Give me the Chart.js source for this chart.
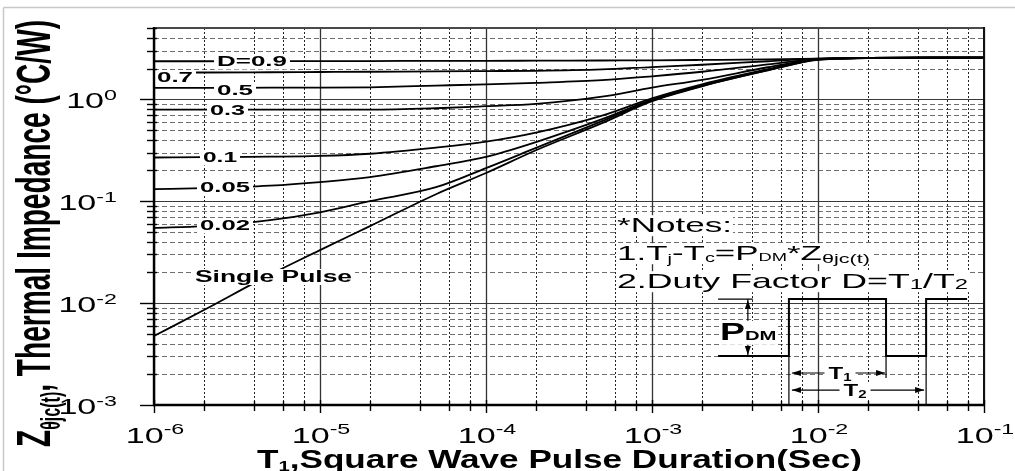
<!DOCTYPE html>
<html><head><meta charset="utf-8">
<script src="https://cdn.jsdelivr.net/npm/chart.js@4.4.1/dist/chart.umd.min.js"></script>
<style>html,body{margin:0;padding:0;background:#fff;overflow:hidden}canvas{display:block}</style>
</head><body>
<canvas id="c" width="1015" height="471"></canvas>
<script>
// ---------------- data ----------------
const xValues = [1e-6,2e-6,5e-6,1e-5,2e-5,5e-5,1e-4,2e-4,5e-4,1e-3,2e-3,5e-3,1e-2,2e-2,5e-2,1e-1];
const seriesNames = ['D=0.9','0.7','0.5','0.3','0.1','0.05','0.02','Single Pulse'];
const d09    = [2.36,2.36,2.37,2.37,2.37,2.38,2.38,2.39,2.40,2.41,2.43,2.46,2.50,2.54,2.56,2.56];
const d07    = [1.83,1.83,1.84,1.85,1.86,1.88,1.89,1.90,1.96,2.07,2.18,2.36,2.50,2.54,2.56,2.56];
const d05    = [1.29,1.29,1.30,1.30,1.31,1.36,1.40,1.45,1.54,1.68,1.86,2.20,2.49,2.54,2.56,2.56];
const d03    = [0.79,0.79,0.79,0.79,0.79,0.816,0.854,0.90,1.06,1.30,1.55,2.06,2.48,2.54,2.56,2.56];
const d01    = [0.268,0.270,0.273,0.278,0.292,0.335,0.383,0.47,0.69,1.02,1.40,1.97,2.47,2.54,2.56,2.56];
const d005   = [0.131,0.134,0.142,0.154,0.172,0.22,0.272,0.38,0.637,0.99,1.37,1.95,2.46,2.54,2.56,2.56];
const d002   = [0.0547,0.057,0.065,0.0775,0.10,0.137,0.211,0.333,0.609,0.97,1.35,1.93,2.45,2.54,2.56,2.56];
const single = [0.00475,0.00854,0.019,0.0331,0.0569,0.117,0.189,0.316,0.582,0.956,1.34,1.92,2.44,2.53,2.56,2.56];
const seriesValues = [d09,d07,d05,d03,d01,d005,d002,single];

const tickBase = '10';
const xTickExps = ['-6','-5','-4','-3','-2','-1'];
const yTickExps = ['-3','-2','-1','0'];
const xMinorMultipliers = [2,4,6,8];
const yMinorMultipliers = [2,3,4,5,6,7,8,9];

// ---------------- helpers ----------------
const FONT = '"Liberation Sans", Arial, Helvetica, sans-serif';
function fontOf(s){ return (s.bold?'bold ':'') + s.size + 'px ' + FONT; }
function drawRich(ctx, segs, x, y, o) {
  o = o || {};
  ctx.save();
  let w = 0;
  for (const s of segs) { ctx.font = fontOf(s); s.w = ctx.measureText(s.t).width; w += s.w; }
  const sx = o.width ? o.width / w : (o.sx || 1);
  ctx.translate(x, y);
  if (o.rot) { ctx.scale(o.hx || 1, 1); ctx.rotate(-Math.PI / 2); }
  ctx.scale(sx, 1);
  const start = o.align === 'center' ? -w / 2 : (o.align === 'right' ? -w : 0);
  const maxSize = Math.max.apply(null, segs.map(s => s.size));
  if (o.bg) {
    ctx.fillStyle = '#fff';
    const p = (o.pad == null ? 2 : o.pad) / sx;
    ctx.fillRect(start - p, -maxSize * 0.80, w + 2 * p, maxSize * 1.0);
  }
  ctx.fillStyle = o.color || '#000';
  ctx.textBaseline = 'alphabetic';
  ctx.textAlign = 'left';
  let cx = start;
  for (const s of segs) { ctx.font = fontOf(s); ctx.fillText(s.t, cx, s.dy || 0); cx += s.w; }
  ctx.restore();
}
function seg(t, size, bold, dy){ return {t:t, size:size, bold:!!bold, dy:dy||0}; }
function isMajor(v){ const l = Math.log10(v); return Math.abs(l - Math.round(l)) < 1e-6; }
function line(ctx, x1, y1, x2, y2){ ctx.beginPath(); ctx.moveTo(x1,y1); ctx.lineTo(x2,y2); ctx.stroke(); }
function arrowHead(ctx, x, y, dx, dy){
  const L = 9, H = 3;
  ctx.beginPath();
  ctx.moveTo(x, y);
  ctx.lineTo(x - dx*L - dy*H, y - dy*L + dx*H);
  ctx.lineTo(x - dx*L + dy*H, y - dy*L - dx*H);
  ctx.closePath(); ctx.fill();
}

// gridline values built from the tick definitions
const xGrid = [];
xTickExps.forEach((e, i) => {
  const d = Math.pow(10, +e); xGrid.push(d);
  if (i < xTickExps.length - 1) xMinorMultipliers.forEach(m => xGrid.push(m * d));
});
const yGrid = [];
yTickExps.forEach((e) => {
  const d = Math.pow(10, +e); yGrid.push(d);
  yMinorMultipliers.forEach(m => { if (m * d <= 5 + 1e-9) yGrid.push(m * d); });
});

// ---------------- plugins ----------------
const gridPlugin = {
  id: 'grid',
  beforeDatasetsDraw(chart) {
    const ctx = chart.ctx, a = chart.chartArea, xs = chart.scales.x, ys = chart.scales.y;
    ctx.save();
    for (const v of yGrid) {
      const p = Math.round(ys.getPixelForValue(v)) + 0.5;
      if (isMajor(v)) { ctx.setLineDash([]); ctx.strokeStyle = '#3a3a3a'; ctx.lineWidth = 1.2; }
      else { ctx.setLineDash([5,3]); ctx.strokeStyle = '#6e6e6e'; ctx.lineWidth = 1; }
      line(ctx, a.left, p, a.right, p);
    }
    for (const v of xGrid) {
      const p = Math.round(xs.getPixelForValue(v)) + 0.5;
      if (isMajor(v)) { ctx.setLineDash([]); ctx.strokeStyle = '#333'; ctx.lineWidth = 1.3; }
      else { ctx.setLineDash([2,2]); ctx.strokeStyle = '#222'; ctx.lineWidth = 1; }
      line(ctx, p, a.top, p, a.bottom);
    }
    ctx.restore();
  }
};

const annotPlugin = {
  id: 'annot',
  afterDatasetsDraw(chart) {
    const ctx = chart.ctx, xs = chart.scales.x, ys = chart.scales.y;
    const X = v => xs.getPixelForValue(v), Y = v => ys.getPixelForValue(v);
    // curve labels (white boxes interrupt the lines)
    const curveLabels = [
      {t:'D=0.9', x:252, y:61, w:70},
      {t:'0.7', x:175, y:77, w:36},
      {t:'0.5', x:235, y:90, w:36},
      {t:'0.3', x:227.5, y:110, w:35},
      {t:'0.1', x:220, y:157, w:34},
      {t:'0.05', x:225, y:186.5, w:50},
      {t:'0.02', x:225, y:225, w:50}
    ];
    curveLabels.forEach(l => drawRich(ctx, [seg(l.t, 15, true)], l.x, l.y + 5.4, {align:'center', width:l.w, bg:true, pad:3}));
    drawRich(ctx, [seg('Single Pulse', 16, true)], 273.5, 276 + 5.8, {align:'center', width:157, bg:true, pad:3});

    // notes
    drawRich(ctx, [seg('*Notes:', 21)], 617, 232, {width:115, bg:true, pad:1});
    drawRich(ctx, [seg('1.T',21), seg('j',12,false,3), seg('-T',21), seg('c',12,false,2), seg('=P',21), seg('DM',11,false,1), seg('*Z',21), seg('\u03B8jc(t)',13,false,3)], 617, 260, {width:253, bg:true, pad:1});
    drawRich(ctx, [seg('2.Duty Factor D=T',21), seg('1',14,false,1), seg('/T',21), seg('2',14,false,1)], 617, 288, {width:351, bg:true, pad:1});

    // pulse diagram (in data coordinates)
    const xA = 2.50e-3, xB = 3.78e-3, xBe = 4.05e-3, xC = 6.68e-3, xE = 0.0257, xF = 0.0448, xG = 0.0791;
    const yHi = 0.01094, yLo = 0.00302, yT1 = 0.00206, yT2 = 0.00140, yE1 = 0.00184, yAx = 0.001;
    ctx.save();
    ctx.strokeStyle = '#000'; ctx.fillStyle = '#000'; ctx.setLineDash([]);
    ctx.lineWidth = 2;
    ctx.beginPath();
    const wave = [[xA,yLo],[xC,yLo],[xC,yHi],[xE,yHi],[xE,yLo],[xF,yLo],[xF,yHi],[xG,yHi]];
    wave.forEach((p,i) => { const px = X(p[0]), py = Y(p[1]); if (i) ctx.lineTo(px,py); else ctx.moveTo(px,py); });
    ctx.stroke();
    ctx.lineWidth = 1.2;
    line(ctx, X(xA), Y(yHi), X(xBe), Y(yHi));
    // extension lines
    line(ctx, X(xC), Y(yLo), X(xC), Y(yAx));
    line(ctx, X(xE), Y(yLo), X(xE), Y(yE1));
    line(ctx, X(xF), Y(yLo), X(xF), Y(yAx));
    // PDM arrow
    line(ctx, X(xB), Y(yHi), X(xB), Y(yLo));
    arrowHead(ctx, X(xB), Y(yHi) + 1, 0, -1);
    arrowHead(ctx, X(xB), Y(yLo) - 1, 0, 1);
    // T1 / T2 arrows
    line(ctx, X(xC) + 3, Y(yT1), X(xE) - 1, Y(yT1));
    arrowHead(ctx, X(xC) + 3, Y(yT1), -1, 0);
    arrowHead(ctx, X(xE) - 1, Y(yT1), 1, 0);
    line(ctx, X(xC) + 3, Y(yT2), X(xF) - 2, Y(yT2));
    arrowHead(ctx, X(xC) + 3, Y(yT2), -1, 0);
    arrowHead(ctx, X(xF) - 2, Y(yT2), 1, 0);
    ctx.restore();
    drawRich(ctx, [seg('P',24,true), seg('DM',13,true)], 720, 340, {sx:1.56, bg:true, pad:1});
    drawRich(ctx, [seg('T',16,true), seg('1',10,true,2)], 840, 379, {align:'center', sx:1.5, bg:true, pad:4});
    drawRich(ctx, [seg('T',16,true), seg('2',10,true,2)], 855, 396, {align:'center', sx:1.5, bg:true, pad:4});
  },
  afterDraw(chart) {
    const ctx = chart.ctx, a = chart.chartArea, xs = chart.scales.x, ys = chart.scales.y;
    ctx.save();
    ctx.setLineDash([]);
    // plot frame
    ctx.strokeStyle = '#4a4a4a'; ctx.lineWidth = 2;
    line(ctx, a.left, a.top, a.right, a.top);
    ctx.strokeStyle = '#111';
    line(ctx, a.right, a.top - 1, a.right, a.bottom + 1);
    ctx.strokeStyle = '#000'; ctx.lineWidth = 2.4;
    line(ctx, a.left, a.top - 1, a.left, a.bottom + 1);
    line(ctx, a.left - 1, a.bottom, a.right + 1, a.bottom);
    // tick marks
    ctx.lineWidth = 1.4;
    for (const v of yGrid) {
      const p = Math.round(ys.getPixelForValue(v)) + 0.5; const m = isMajor(v);
      line(ctx, a.left - (m ? 14 : 7), p, a.left + (m ? 1 : 3), p);
    }
    for (const v of xGrid) {
      const p = Math.round(xs.getPixelForValue(v)) + 0.5; const m = isMajor(v);
      line(ctx, p, a.bottom - (m ? 5 : 4), p, a.bottom + (m ? 8 : 6));
    }
    // outer light frame
    ctx.strokeStyle = '#c8c8c8'; ctx.lineWidth = 1.5;
    line(ctx, 3.5, 7.5, 1015, 7.5);
    line(ctx, 3.5, 7.5, 3.5, 471);
    ctx.restore();
    // tick labels
    xTickExps.forEach(e => {
      const p = xs.getPixelForValue(Math.pow(10, +e));
      drawRich(ctx, [seg(tickBase, 22), seg(e, 15, false, -9)], p + 1, 443, {align:'center', sx:1.55});
    });
    yTickExps.forEach(e => {
      const p = ys.getPixelForValue(Math.pow(10, +e));
      drawRich(ctx, [seg(tickBase, 22), seg(e, 15, false, -8)], 117, p + 9, {align:'right', sx:1.55});
    });
    // axis titles
    drawRich(ctx, [seg('T',26,true), seg('1',15,true,3), seg(',Square Wave Pulse Duration(Sec)',26,true)], 257, 468, {width:605});
    drawRich(ctx, [seg('Z',28,true), seg('\u03B8jc(t)',16,true,6), seg(', Thermal Impedance (\u00B0C/W)',28,true)], 50, 447, {rot:true, hx:1.7, width:427});
  }
};

// ---------------- chart ----------------
const chart = new Chart(document.getElementById('c').getContext('2d'), {
  type: 'line',
  data: {
    datasets: seriesNames.map((n, i) => ({
      label: n,
      data: xValues.map((x, j) => ({x: x, y: seriesValues[i][j]})),
      borderColor: '#000',
      borderWidth: 1.8,
      pointRadius: 0,
      fill: false,
      cubicInterpolationMode: 'monotone'
    }))
  },
  options: {
    responsive: false,
    animation: false,
    devicePixelRatio: 1,
    layout: {padding: {left: 0, right: 31, top: 28, bottom: 0}},
    plugins: {legend: {display: false}, tooltip: {enabled: false}},
    scales: {
      x: {
        type: 'logarithmic', min: 1e-6, max: 1e-1,
        grid: {display: false}, border: {display: false}, ticks: {display: false},
        afterBuildTicks: s => { s.ticks = xGrid.map(v => ({value: v})); },
        afterFit: s => { s.height = 66; }
      },
      y: {
        type: 'logarithmic', min: 1e-3, max: 5,
        grid: {display: false}, border: {display: false}, ticks: {display: false},
        afterBuildTicks: s => { s.ticks = yGrid.map(v => ({value: v})); },
        afterFit: s => { s.width = 154; }
      }
    }
  },
  plugins: [gridPlugin, annotPlugin]
});
</script>
</body></html>
